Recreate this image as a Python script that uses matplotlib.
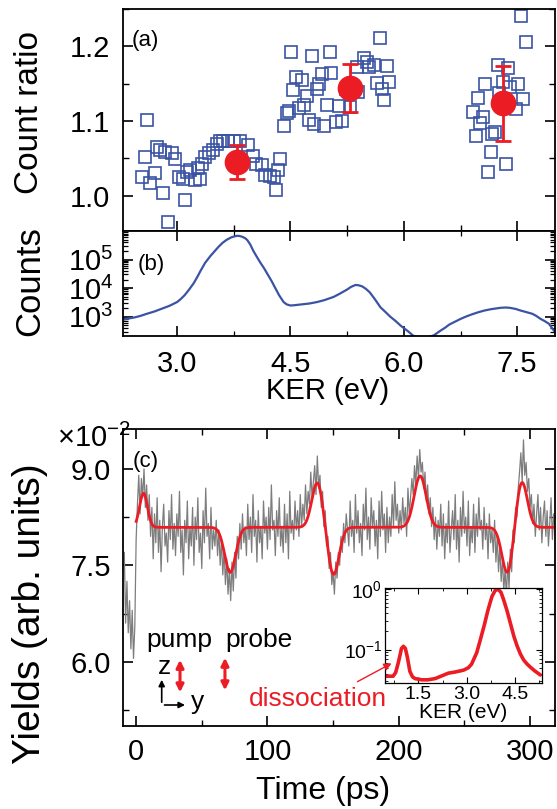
import numpy as np
import matplotlib
matplotlib.use('Agg')
import matplotlib.pyplot as plt
from matplotlib.ticker import MultipleLocator, LogLocator, NullFormatter, FormatStrFormatter
from matplotlib.patches import FancyArrowPatch

plt.rcParams.update({'font.family': ['Liberation Sans', 'DejaVu Sans'],
                     'mathtext.fontset': 'custom',
                     'mathtext.rm': 'Liberation Sans',
                     'mathtext.it': 'Liberation Sans:italic',
                     'mathtext.bf': 'Liberation Sans:bold',
                     'axes.linewidth': 1.3})

RED = '#ec1c24'
BLUE = '#3b53a4'
GREY = '#7d7d7d'

# (a) count ratio vs KER (open squares)
ratio_ker = [2.60, 2.58, 2.53, 2.64, 2.71, 2.73, 2.78, 2.84, 2.93, 2.97,
             2.81, 2.88, 3.11, 3.02, 3.08, 3.13, 3.17, 3.24, 3.30, 3.28,
             3.33, 3.37, 3.42, 3.47, 3.53, 3.57, 3.61, 3.68, 3.75, 3.83,
             3.94, 4.00, 4.05, 4.12, 4.17, 4.23, 4.28, 4.31, 4.36, 4.34,
             4.51, 4.78, 5.02, 5.68, 4.58, 4.65, 4.54, 4.72, 4.85, 4.88,
             4.92, 5.04, 4.68, 4.61, 4.48, 4.45, 4.41, 4.74, 4.81, 4.94,
             4.98, 5.10, 5.18, 5.14, 5.23, 5.40, 5.29, 5.47, 5.51, 5.54,
             5.60, 5.78, 5.65, 5.80, 5.71, 5.74, 5.38,
             7.55, 7.62, 7.25, 7.38, 7.08, 7.31, 7.41, 7.51, 6.98, 7.58,
             7.48, 6.91, 7.05, 7.01, 7.21, 7.17, 6.95, 7.15, 7.35, 7.12, 7.26]
ratio_val = [1.101, 1.052, 1.025, 1.017, 1.031, 1.066, 1.062, 1.059, 1.057, 1.049,
             1.004, 0.965, 0.994, 1.025, 1.023, 1.032, 1.034, 1.021, 1.023, 1.037,
             1.043, 1.052, 1.057, 1.062, 1.070, 1.073, 1.073, 1.073, 1.073, 1.073,
             1.068, 1.054, 1.043, 1.041, 1.028, 1.026, 1.025, 1.008, 1.049, 1.034,
             1.192, 1.187, 1.193, 1.211, 1.159, 1.155, 1.141, 1.133, 1.143, 1.150,
             1.163, 1.164, 1.122, 1.118, 1.114, 1.111, 1.093, 1.102, 1.096, 1.094,
             1.121, 1.099, 1.100, 1.120, 1.143, 1.139, 1.119, 1.185, 1.179, 1.172,
             1.175, 1.174, 1.151, 1.152, 1.143, 1.128, 1.172,
             1.240, 1.206, 1.175, 1.171, 1.149, 1.153, 1.146, 1.149, 1.131, 1.129,
             1.116, 1.112, 1.105, 1.098, 1.085, 1.083, 1.080, 1.059, 1.042, 1.032, 1.138]

# (a) averaged ratio with error bars
avg_ker = [3.79, 5.29, 7.31]
avg_val = [1.045, 1.144, 1.124]
avg_err = [0.023, 0.032, 0.050]

# (b) KER spectrum, log10(counts)
spec_ker = [2.28, 2.35, 2.45, 2.52, 2.60, 2.70, 2.80, 2.90, 3.00, 3.05,
            3.10, 3.16, 3.22, 3.27, 3.31, 3.37, 3.44, 3.50, 3.55, 3.60,
            3.65, 3.69, 3.72, 3.76, 3.79, 3.82, 3.86, 3.90, 3.93, 3.97,
            4.01, 4.05, 4.10, 4.15, 4.19, 4.25, 4.30, 4.35, 4.41, 4.45,
            4.50, 4.55, 4.65, 4.75, 4.85, 4.95, 5.07, 5.15, 5.25, 5.30,
            5.36, 5.40, 5.45, 5.50, 5.55, 5.62, 5.69, 5.75, 5.82, 5.89,
            5.96, 6.05, 6.13, 6.20, 6.29, 6.35, 6.40, 6.48, 6.55, 6.60,
            6.75, 6.82, 6.90, 6.98, 7.06, 7.15, 7.28, 7.35, 7.40, 7.48,
            7.55, 7.62, 7.70, 7.75, 7.81, 7.86, 7.92, 7.96, 8.00]
spec_log = [2.89, 2.93, 2.98, 3.03, 3.10, 3.18, 3.28, 3.38, 3.51, 3.62,
            3.75, 3.95, 4.17, 4.40, 4.60, 4.88, 5.12, 5.30, 5.45, 5.58,
            5.68, 5.74, 5.78, 5.81, 5.83, 5.83, 5.80, 5.75, 5.68, 5.52,
            5.30, 5.12, 4.90, 4.70, 4.52, 4.25, 4.00, 3.75, 3.51, 3.43,
            3.39, 3.40, 3.43, 3.46, 3.51, 3.58, 3.69, 3.80, 3.95, 4.04,
            4.11, 4.10, 4.06, 3.97, 3.85, 3.60, 3.33, 3.18, 3.00, 2.85,
            2.68, 2.50, 2.32, 2.28, 2.27, 2.30, 2.35, 2.50, 2.62, 2.72,
            2.92, 3.00, 3.08, 3.15, 3.21, 3.26, 3.31, 3.32, 3.31, 3.27,
            3.21, 3.16, 3.10, 3.03, 2.92, 2.85, 2.75, 2.60, 2.46]

# (c) dissociation yield (x1e-2), 1 ps steps from -9 ps
time_start = -9
yields = [
    7.70, 6.60, 7.25, 6.45, 6.95, 6.20, 6.80, 6.05, 6.55, 7.90,
    8.45, 8.90, 8.30, 8.85, 8.55, 9.00, 8.40, 8.75, 8.20, 8.60,
    7.95, 8.40, 7.60, 8.30, 7.85, 8.55, 7.70, 8.20, 7.40, 8.10,
    8.45, 7.80, 8.00, 7.55, 8.35, 7.90, 8.60, 7.75, 8.15, 7.65,
    8.30, 7.95, 8.65, 7.70, 8.05, 7.35, 8.20, 7.85, 8.50, 7.60,
    8.10, 7.80, 8.40, 7.50, 8.25, 7.90, 8.55, 7.70, 8.00, 7.45,
    8.35, 7.85, 8.70, 7.95, 8.15, 7.60, 8.40, 7.75, 8.05, 7.80,
    8.20, 7.65, 8.05, 7.50, 7.90, 7.35, 7.75, 7.20, 7.60, 7.05,
    7.45, 6.95, 7.55, 7.10, 7.70, 7.30, 7.95, 7.60, 8.15, 7.75,
    8.30, 7.85, 8.10, 7.65, 8.45, 7.90, 8.25, 7.70, 8.60, 7.95,
    8.20, 7.55, 8.35, 7.85, 8.10, 7.60, 8.50, 8.00, 8.25, 7.75,
    8.40, 7.90, 8.75, 8.05, 8.20, 7.65, 8.35, 7.95, 8.55, 7.80,
    8.10, 7.70, 8.45, 7.85, 8.30, 7.60, 8.65, 8.00, 8.20, 7.90,
    8.50, 8.05, 8.35, 7.95, 8.60, 8.10, 8.45, 8.20, 8.75, 8.30,
    8.65, 8.45, 8.95, 8.55, 8.80, 9.05, 8.60, 9.20, 8.70, 8.90,
    8.40, 8.65, 8.10, 8.35, 7.80, 7.95, 7.45, 7.70, 7.20, 7.40,
    7.05, 7.55, 7.30, 7.70, 7.50, 7.95, 7.70, 8.15, 7.85, 8.30,
    8.05, 7.80, 8.50, 7.95, 8.20, 7.70, 8.60, 8.00, 8.35, 7.85,
    8.15, 7.65, 8.45, 8.05, 8.70, 7.90, 8.25, 7.75, 8.55, 8.10,
    8.35, 7.80, 8.20, 7.60, 8.50, 7.95, 8.65, 8.05, 8.30, 7.70,
    8.40, 7.85, 8.25, 7.95, 8.60, 8.10, 8.80, 8.20, 8.45, 8.00,
    8.35, 8.05, 8.55, 8.15, 8.40, 7.95, 8.70, 8.30, 8.55, 8.85,
    8.60, 9.05, 8.75, 9.20, 8.85, 9.30, 8.95, 9.10, 8.70, 8.95,
    8.50, 8.75, 8.30, 8.55, 8.10, 8.40, 7.90, 8.25, 7.75, 8.20,
    7.95, 8.45, 7.80, 8.30, 7.60, 8.15, 7.85, 8.50, 7.70, 8.05,
    8.35, 7.90, 8.60, 7.75, 8.20, 7.55, 8.40, 7.95, 8.65, 8.00,
    8.25, 7.80, 8.50, 7.65, 8.10, 7.85, 8.45, 7.70, 8.30, 7.95,
    8.55, 8.05, 8.20, 7.75, 8.40, 7.90, 8.15, 7.60, 8.30, 7.85,
    8.05, 7.70, 8.20, 7.55, 7.95, 7.40, 7.80, 7.25, 7.60, 7.10,
    7.45, 7.00, 7.55, 7.15, 7.75, 7.40, 8.05, 7.85, 8.40, 8.25,
    8.70, 8.95, 9.25, 8.80, 9.45, 8.90, 9.10, 8.65, 8.85, 8.40,
    8.60, 8.15, 8.45, 7.95, 8.30, 8.60, 8.05, 8.40, 7.85, 8.25,
    8.50, 7.95, 8.35, 7.80, 8.15, 8.55, 7.90, 8.30, 8.05]

# (c) fitted revival structure: baseline plus gaussian peaks/dips
fit_base = 8.09
fit_t0 = [5.6, 71.6, 138.0, 150.3, 216.3, 282.8, 293.7]
fit_amp = [0.53, -0.70, 0.70, -0.74, 0.80, -0.72, 0.72]
fit_sig = [3.0, 4.2, 4.2, 4.2, 4.6, 4.2, 4.2]

# inset KER distribution, log10(normalised yield)
ins_ker = [0.50, 0.72, 0.80, 0.88, 0.94, 0.98, 1.04, 1.10, 1.16, 1.24,
           1.32, 1.40, 1.61, 1.80, 2.02, 2.25, 2.43, 2.65, 2.90, 3.05,
           3.15, 3.31, 3.45, 3.55, 3.65, 3.78, 3.88, 3.97, 4.06, 4.14,
           4.25, 4.35, 4.46, 4.56, 4.66, 4.76, 4.87, 4.97, 5.10, 5.28]
ins_log = [-1.44, -1.44, -1.38, -1.22, -1.08, -0.98, -0.945, -0.98, -1.12, -1.36,
           -1.45, -1.48, -1.50, -1.50, -1.48, -1.43, -1.39, -1.37, -1.34, -1.30,
           -1.24, -1.05, -0.78, -0.58, -0.36, -0.12, -0.02, 0.0, -0.05, -0.17,
           -0.36, -0.56, -0.78, -0.94, -1.07, -1.17, -1.24, -1.29, -1.35, -1.42]

W, H = 557, 809
fig = plt.figure(figsize=(W / 100, H / 100), dpi=100)


def box(l, t, r, b):
    # axes rectangle from pixel edges
    return [l / W, 1 - b / H, (r - l) / W, (b - t) / H]


def fpos(x, y):
    return (x / W, 1 - y / H)


ax_a = fig.add_axes(box(123, 9, 555, 231))
ax_b = fig.add_axes(box(123, 231, 555, 336), sharex=ax_a)
ax_c = fig.add_axes(box(123, 429, 555, 726))
ax_in = fig.add_axes(box(385, 588, 542, 683))

TICK = 21

# ---- (a)
ax_a.plot(ratio_ker, ratio_val, 's', ms=8.2, mfc='none', mec=BLUE, mew=1.2)
ax_a.errorbar(avg_ker, avg_val, yerr=avg_err, fmt='o', ms=17.5, color=RED,
              ecolor=RED, elinewidth=2, capsize=5.5, capthick=2, zorder=5)
ax_a.set_xlim(2.285, 8.0)
ax_a.set_ylim(0.953, 1.25)
ax_a.yaxis.set_major_locator(MultipleLocator(0.1))
ax_a.yaxis.set_minor_locator(MultipleLocator(0.05))
ax_a.yaxis.set_major_formatter(FormatStrFormatter('%.1f'))
ax_a.xaxis.set_major_locator(MultipleLocator(1.5))
ax_a.xaxis.set_minor_locator(MultipleLocator(0.75))
ax_a.tick_params(which='both', direction='in', top=False, right=True,
                 labelbottom=False, labelsize=TICK, pad=9)
ax_a.tick_params(which='major', length=7, width=1.2)
ax_a.tick_params(which='minor', length=4, width=1.0)
ax_a.text(0.02, 0.86, '(a)', transform=ax_a.transAxes, fontsize=16,
          ha='left', va='center')

# ---- (b)
ax_b.semilogy(spec_ker, 10 ** np.array(spec_log), color=BLUE, lw=1.6)
ax_b.set_ylim(210, 1e6)
ax_b.set_yticks([1e3, 1e4, 1e5])
ax_b.yaxis.set_minor_locator(LogLocator(base=10, subs=np.arange(2, 10)))
ax_b.yaxis.set_minor_formatter(NullFormatter())
ax_b.tick_params(which='both', direction='in', top=True, right=True,
                 labelsize=TICK, pad=10)
ax_b.tick_params(axis='y', pad=7)
ax_b.tick_params(which='major', length=7, width=1.2)
ax_b.tick_params(which='minor', length=3.5, width=0.9)
ax_b.xaxis.set_major_formatter(FormatStrFormatter('%.1f'))
ax_b.text(0.035, 0.68, '(b)', transform=ax_b.transAxes, fontsize=16,
          ha='left', va='center')

# ---- (c)
t = np.arange(time_start, time_start + len(yields))
ax_c.plot(t, yields, color=GREY, lw=0.9)
tf = np.linspace(0, 320, 1200)
fit = np.full_like(tf, fit_base)
for t0, a, s in zip(fit_t0, fit_amp, fit_sig):
    fit += a * np.exp(-(tf - t0) ** 2 / (2 * s ** 2))
ax_c.plot(tf, fit, color=RED, lw=2.0)
ax_c.set_xlim(-10, 319)
ax_c.set_ylim(5.0, 9.62)
ax_c.xaxis.set_major_locator(MultipleLocator(100))
ax_c.xaxis.set_minor_locator(MultipleLocator(50))
ax_c.yaxis.set_major_locator(MultipleLocator(1.5))
ax_c.yaxis.set_minor_locator(MultipleLocator(0.75))
ax_c.yaxis.set_major_formatter(FormatStrFormatter('%.1f'))
ax_c.tick_params(which='both', direction='in', top=True, right=True,
                 labelsize=TICK, pad=9)
ax_c.tick_params(which='major', length=7, width=1.2)
ax_c.tick_params(which='minor', length=4, width=1.0)
ax_c.text(0.023, 0.89, '(c)', transform=ax_c.transAxes, fontsize=16,
          ha='left', va='center')

# polarisation sketch
tc = ax_c.transAxes
ax_c.text(0.130, 0.290, 'pump', transform=tc, fontsize=19, ha='center', va='center')
ax_c.text(0.315, 0.290, 'probe', transform=tc, fontsize=19, ha='center', va='center')
for xa, y0, y1 in [(0.132, 0.104, 0.232), (0.236, 0.111, 0.239)]:
    ax_c.add_patch(FancyArrowPatch((xa, y0), (xa, y1), transform=tc,
                                   arrowstyle='<|-|>', mutation_scale=11,
                                   color=RED, lw=2.2))
ax_c.add_patch(FancyArrowPatch((0.0896, 0.0707), (0.0896, 0.165), transform=tc,
                               arrowstyle='-|>', mutation_scale=9,
                               color='black', lw=1.2))
ax_c.add_patch(FancyArrowPatch((0.0896, 0.0707), (0.150, 0.0707), transform=tc,
                               arrowstyle='-|>', mutation_scale=9,
                               color='black', lw=1.2))
ax_c.text(0.097, 0.200, 'z', transform=tc, fontsize=19, ha='center', va='center')
ax_c.text(0.172, 0.080, 'y', transform=tc, fontsize=19, ha='center', va='center')
ax_c.text(0.451, 0.091, 'dissociation', transform=tc, fontsize=19,
          color=RED, ha='center', va='center')

# ---- inset
ax_in.semilogy(ins_ker, 10 ** np.array(ins_log), color=RED, lw=2.6,
               solid_capstyle='round')
ax_in.set_xlim(0.47, 5.33)
ax_in.set_ylim(0.028, 1.05)
ax_in.set_yticks([0.1, 1.0])
ax_in.yaxis.set_minor_locator(LogLocator(base=10, subs=np.arange(2, 10)))
ax_in.yaxis.set_minor_formatter(NullFormatter())
ax_in.xaxis.set_major_locator(MultipleLocator(1.5))
ax_in.xaxis.set_minor_locator(MultipleLocator(0.75))
ax_in.xaxis.set_major_formatter(FormatStrFormatter('%.1f'))
ax_in.tick_params(which='both', direction='in', top=True, right=True,
                  labelsize=14, pad=2)
ax_in.tick_params(which='major', length=4, width=0.8)
ax_in.tick_params(which='minor', length=2, width=0.6)
for sp in ax_in.spines.values():
    sp.set_linewidth(0.9)
ax_in.set_xlabel('KER (eV)', fontsize=15, labelpad=0)

# arrow from label to the low-energy peak (figure level so it sits on the inset)
fig.add_artist(FancyArrowPatch(fpos(355, 683), fpos(394, 662),
                               transform=fig.transFigure, arrowstyle='-|>',
                               mutation_scale=11, color=RED, lw=1.0))

# axis titles
fig.text(*fpos(30, 113), 'Count ratio', rotation=90, fontsize=24,
         ha='center', va='center')
fig.text(*fpos(30, 281), 'Counts', rotation=90, fontsize=25,
         ha='center', va='center')
fig.text(*fpos(30, 614), 'Yields (arb. units)', rotation=90, fontsize=28,
         ha='center', va='center')
fig.text(*fpos(328, 391), 'KER (eV)', fontsize=21, ha='center', va='center')
fig.text(*fpos(323, 791), 'Time (ps)', fontsize=23, ha='center', va='center')
fig.text(*fpos(57, 438), r'$\times10^{-2}$', fontsize=21, ha='left', va='center')

fig.savefig('out.png', dpi=100)
